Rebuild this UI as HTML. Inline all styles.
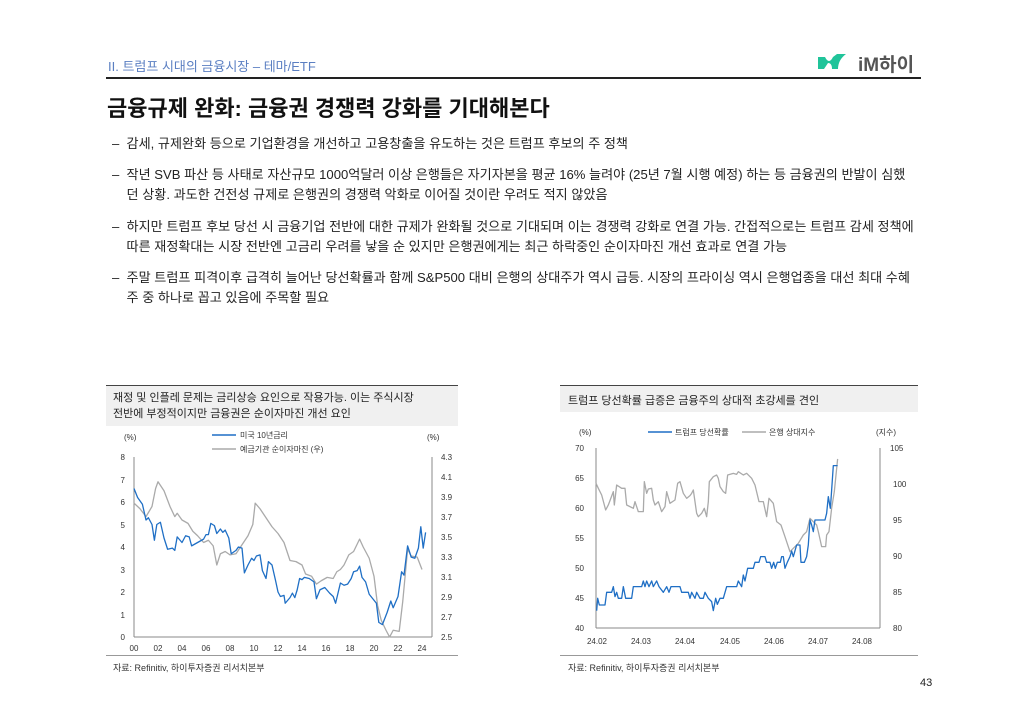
<!DOCTYPE html>
<html><head><meta charset="utf-8"><style>
body{margin:0;width:1024px;height:723px;background:#fff;font-family:"Liberation Sans","Noto Sans CJK KR",sans-serif;position:relative;overflow:hidden;color:#222}
.a{position:absolute;white-space:nowrap}
.b{font-size:13.1px;line-height:20px;color:#222}
</style></head><body>
<div class="a" style="left:108px;top:56px;font-size:13px;color:#5b7fc2">II. 트럼프 시대의 금융시장 – 테마/ETF</div>
<div class="a" style="left:858px;top:50px;font-size:19px;font-weight:bold;color:#555">iM하이</div>
<svg class="a" style="left:818px;top:53px" width="36" height="20"><path d="M0 16 L0 4 L7 4 Q11 12 15 4 L19 1 L28 1 Q20 7 20 16 L14 16 Q14 10 10 10 L6 16Z" fill="#20c49a"/></svg>
<div class="a" style="left:106px;top:77px;width:815px;height:1.5px;background:#222"></div>
<div class="a" style="left:107px;top:91px;font-size:22px;font-weight:bold;color:#111">금융규제 완화: 금융권 경쟁력 강화를 기대해본다</div>
<div class="a b" style="left:112px;top:134px">–&nbsp;&nbsp;감세, 규제완화 등으로 기업환경을 개선하고 고용창출을 유도하는 것은 트럼프 후보의 주 정책</div>
<div class="a b" style="left:112px;top:165px">–&nbsp;&nbsp;작년 SVB 파산 등 사태로 자산규모 1000억달러 이상 은행들은 자기자본을 평균 16% 늘려야 (25년 7월 시행 예정) 하는 등 금융권의 반발이 심했<br>&nbsp;&nbsp;&nbsp;&nbsp;던 상황. 과도한 건전성 규제로 은행권의 경쟁력 악화로 이어질 것이란 우려도 적지 않았음</div>
<div class="a b" style="left:112px;top:217px">–&nbsp;&nbsp;하지만 트럼프 후보 당선 시 금융기업 전반에 대한 규제가 완화될 것으로 기대되며 이는 경쟁력 강화로 연결 가능. 간접적으로는 트럼프 감세 정책에<br>&nbsp;&nbsp;&nbsp;&nbsp;따른 재정확대는 시장 전반엔 고금리 우려를 낳을 순 있지만 은행권에게는 최근 하락중인 순이자마진 개선 효과로 연결 가능</div>
<div class="a b" style="left:112px;top:268px">–&nbsp;&nbsp;주말 트럼프 피격이후 급격히 늘어난 당선확률과 함께 S&amp;P500 대비 은행의 상대주가 역시 급등. 시장의 프라이싱 역시 은행업종을 대선 최대 수혜<br>&nbsp;&nbsp;&nbsp;&nbsp;주 중 하나로 꼽고 있음에 주목할 필요</div>

<div class="a" style="left:106px;top:385px;width:352px;height:40px;background:#f0f0f0;border-top:1.5px solid #444"></div>
<div class="a" style="left:113px;top:390px;font-size:11px;line-height:16px">재정 및 인플레 문제는 금리상승 요인으로 작용가능. 이는 주식시장<br>전반에 부정적이지만 금융권은 순이자마진 개선 요인</div>
<div class="a" style="left:560px;top:385px;width:358px;height:26px;background:#f0f0f0;border-top:1.5px solid #444"></div>
<div class="a" style="left:568px;top:392px;font-size:11px">트럼프 당선확률 급증은 금융주의 상대적 초강세를 견인</div>
<div class="a" style="left:106px;top:655px;width:352px;height:1px;background:#999"></div>
<div class="a" style="left:560px;top:655px;width:358px;height:1px;background:#999"></div>
<div class="a" style="left:113px;top:661px;font-size:9px;color:#333">자료: Refinitiv, 하이투자증권 리서치본부</div>
<div class="a" style="left:568px;top:661px;font-size:9px;color:#333">자료: Refinitiv, 하이투자증권 리서치본부</div>
<div class="a" style="left:920px;top:677px;font-size:11px">43</div>

<svg class="a" style="left:0;top:0" width="1024" height="723" font-family="Liberation Sans,Noto Sans CJK KR,sans-serif" font-size="8" fill="#333">
<line x1="134" y1="457" x2="134" y2="637" stroke="#888"/>
<line x1="134" y1="637" x2="432" y2="637" stroke="#888"/>
<line x1="432" y1="457" x2="432" y2="637" stroke="#888"/>
<g text-anchor="end">
<text x="125" y="460">8</text><text x="125" y="483">7</text><text x="125" y="505">6</text><text x="125" y="528">5</text><text x="125" y="550">4</text><text x="125" y="573">3</text><text x="125" y="595">2</text><text x="125" y="618">1</text><text x="125" y="640">0</text>
</g>
<g>
<text x="441" y="460">4.3</text><text x="441" y="480">4.1</text><text x="441" y="500">3.9</text><text x="441" y="520">3.7</text><text x="441" y="540">3.5</text><text x="441" y="560">3.3</text><text x="441" y="580">3.1</text><text x="441" y="600">2.9</text><text x="441" y="620">2.7</text><text x="441" y="640">2.5</text>
</g>
<g text-anchor="middle">
<text x="134" y="651">00</text><text x="158" y="651">02</text><text x="182" y="651">04</text><text x="206" y="651">06</text><text x="230" y="651">08</text><text x="254" y="651">10</text><text x="278" y="651">12</text><text x="302" y="651">14</text><text x="326" y="651">16</text><text x="350" y="651">18</text><text x="374" y="651">20</text><text x="398" y="651">22</text><text x="422" y="651">24</text>
</g>
<text x="124" y="440">(%)</text><text x="427" y="440">(%)</text>
<line x1="212" y1="435" x2="236" y2="435" stroke="#1f6fc5" stroke-width="1.5"/><text x="240" y="438">미국 10년금리</text>
<line x1="212" y1="449" x2="236" y2="449" stroke="#aaa" stroke-width="1.5"/><text x="240" y="452">예금기관 순이자마진 (우)</text>
<g transform="translate(134,637) scale(12,-22.5)" fill="none" stroke-width="1.3" stroke-linejoin="round">
<polyline vector-effect="non-scaling-stroke" stroke="#aaa" points="0,5.95 0.5,5.7 1,5.35 1.5,5.8 1.8,6.6 2,6.9 2.5,6.5 3,5.8 3.4,5.35 3.6,5.5 4,5.2 4.5,5.05 4.9,4.7 5.3,4.5 5.8,4.2 6.2,4.3 6.6,4.05 6.9,3.2 7.2,3.7 7.6,3.8 8,3.65 8.5,3.7 9,4.1 9.5,4.5 9.9,5.0 10.1,5.95 10.5,5.7 11,5.3 11.5,4.9 12,4.6 12.5,4.2 13,3.4 13.5,3.35 14,3.2 14.3,2.8 14.8,2.7 15.2,2.35 15.6,2.5 16.1,2.65 16.6,2.6 16.9,2.9 17.2,3.0 17.5,3.2 17.9,3.65 18.3,3.8 18.8,4.35 19.1,4.0 19.6,3.5 20,2.7 20.3,1.4 20.6,0.75 21,0.3 21.3,0 21.6,0.3 22.1,0.25 22.4,1.6 22.8,3.9 23.1,3.6 23.6,3.55 24,3.0"/>
<polyline vector-effect="non-scaling-stroke" stroke="#1f6fc5" points="0,6.6 0.3,6.2 0.7,5.9 1,5.2 1.2,5.3 1.5,5.0 1.7,4.3 1.9,5.0 2.2,5.1 2.5,4.4 2.8,3.9 3.2,3.95 3.4,3.85 3.6,4.45 4,4.2 4.3,4.5 4.6,4.45 4.8,4.05 5.3,4.2 5.8,4.35 6,4.55 6.2,4.55 6.4,5.05 6.7,4.95 6.9,4.6 7.2,4.8 7.4,4.65 7.6,4.75 7.9,4.4 8.1,3.7 8.5,3.85 8.7,4.0 9,3.95 9.2,2.85 9.5,3.2 9.8,3.5 10,3.4 10.2,3.6 10.5,3.65 10.7,2.95 11,2.6 11.2,3.35 11.5,3.2 11.8,2.5 12,2.0 12.2,1.8 12.5,1.85 12.6,1.5 13,1.75 13.2,1.95 13.4,1.75 13.6,2.1 13.8,2.6 14,2.55 14.2,2.65 14.6,2.6 15,2.45 15.2,1.7 15.5,2.1 15.9,2.2 16.3,1.95 16.6,1.8 16.8,1.5 17.2,2.4 17.5,2.3 17.8,2.35 18.1,2.6 18.3,2.9 18.6,2.95 18.8,3.15 19,2.65 19.3,2.45 19.6,1.9 19.9,1.7 20.2,1.5 20.4,0.65 20.7,0.55 21.1,1.1 21.4,1.6 21.6,1.3 22,1.8 22.3,2.9 22.5,2.75 22.8,4.05 23.1,3.55 23.4,3.5 23.7,3.95 23.9,4.9 24.1,3.95 24.3,4.65"/>
</g>
<line x1="596" y1="448" x2="596" y2="628" stroke="#888"/>
<line x1="596" y1="628" x2="880" y2="628" stroke="#888"/>
<line x1="880" y1="448" x2="880" y2="628" stroke="#888"/>
<g text-anchor="end">
<text x="584" y="451">70</text><text x="584" y="481">65</text><text x="584" y="511">60</text><text x="584" y="541">55</text><text x="584" y="571">50</text><text x="584" y="601">45</text><text x="584" y="631">40</text>
</g>
<g>
<text x="890" y="451">105</text><text x="893" y="487">100</text><text x="893" y="523">95</text><text x="893" y="559">90</text><text x="893" y="595">85</text><text x="893" y="631">80</text>
</g>
<g text-anchor="middle">
<text x="597" y="644">24.02</text><text x="641" y="644">24.03</text><text x="685" y="644">24.04</text><text x="730" y="644">24.05</text><text x="774" y="644">24.06</text><text x="818" y="644">24.07</text><text x="862" y="644">24.08</text>
</g>
<text x="579" y="435">(%)</text><text x="876" y="435">(지수)</text>
<line x1="648" y1="432" x2="672" y2="432" stroke="#1f6fc5" stroke-width="1.5"/><text x="675" y="435">트럼프 당선확률</text>
<line x1="742" y1="432" x2="766" y2="432" stroke="#aaa" stroke-width="1.5"/><text x="769" y="435">은행 상대지수</text>
<g transform="translate(555,385) scale(0.3333)" fill="none" stroke-width="1.3" stroke-linejoin="round">
<polyline vector-effect="non-scaling-stroke" stroke="#aaa" points="123,295 130,310 140,330 152,375 160,360 175,320 178,360 185,300 200,310 210,310 215,360 235,370 240,350 245,365 250,380 265,380 268,290 275,325 280,312 290,310 295,345 300,360 310,350 320,380 330,365 335,320 345,355 360,345 368,295 375,290 385,325 395,340 405,332 410,325 415,315 425,385 430,395 440,385 448,370 455,395 460,350 463,290 475,275 485,270 490,280 495,305 505,320 512,325 518,270 535,265 545,268 550,260 565,270 575,265 590,280 600,300 612,350 625,350 635,395 642,340 655,355 665,410 678,420 690,455 705,500 715,490 730,475 745,450 755,440 765,400 775,410 785,420 790,440 800,485 812,485 815,450 822,440 830,370 838,320 848,222"/>
<polyline vector-effect="non-scaling-stroke" stroke="#1f6fc5" points="125,677 128,640 133,660 150,660 155,622 170,622 175,605 180,635 185,622 190,640 200,640 205,605 212,640 230,640 235,605 245,605 260,605 265,588 270,605 275,588 282,605 290,588 295,605 305,588 312,605 325,622 335,605 342,622 348,605 375,605 380,622 400,622 405,640 410,622 420,640 425,622 435,640 445,640 450,622 460,640 470,650 475,677 482,640 487,658 495,640 505,640 515,605 545,605 550,588 560,605 565,570 570,588 578,550 595,550 600,532 612,532 617,515 630,515 635,532 645,532 650,550 656,532 661,550 667,532 676,532 680,515 685,515 690,550 697,532 705,515 710,498 715,515 725,480 735,480 738,532 748,532 755,515 760,480 765,405 770,420 775,440 780,405 810,405 815,385 820,335 826,370 828,345 835,242 848,242"/>
</g>
</svg>
</body></html>
